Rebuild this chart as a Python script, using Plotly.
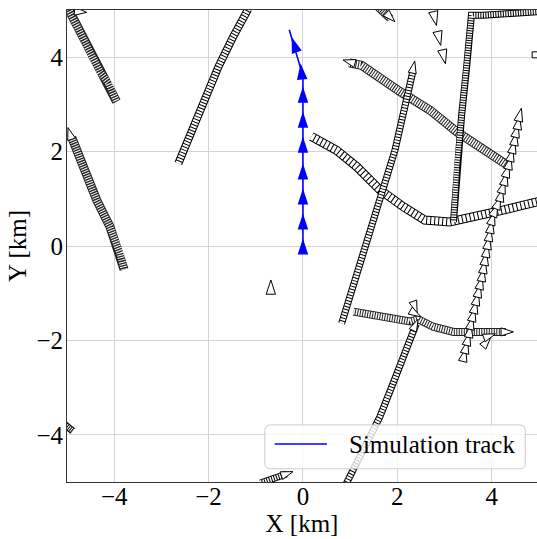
import numpy as np
import plotly.graph_objects as go

# ---------------- data (km) ----------------
# simulation track (blue)
sim_line_x = [0.0, 0.0, -0.29]
sim_line_y = [0.0, 3.6, 4.58]
sim_mark_x = [0.0, 0.0, 0.0, 0.0, 0.0, 0.0, 0.0, -0.05, -0.24]
sim_mark_y = [0.16, 0.69, 1.22, 1.75, 2.32, 2.85, 3.38, 3.87, 4.43]

# other ship tracks (dense history, drawn as ladders)
track_a_x = [-4.97, -4.58, -4.30, -4.12, -3.95]
track_a_y = [5.02, 4.29, 3.69, 3.45, 3.06]
track_b_x = [-4.90, -4.65, -4.37, -4.09, -3.88, -3.79]
track_b_y = [2.30, 1.68, 0.97, 0.41, -0.15, -0.50]
track_c_x = [-2.64, -2.18, -1.79, -1.48, -1.16]
track_c_y = [1.75, 2.88, 3.80, 4.43, 5.02]
track_d_x = [0.98, 1.24, 2.06, 2.69, 3.26, 3.82, 4.32]
track_d_y = [3.88, 3.83, 3.27, 2.88, 2.42, 2.03, 1.72]
track_e_x = [0.18, 0.71, 1.14, 1.63, 2.13, 2.58, 3.11, 3.68, 4.24, 5.10]
track_e_y = [2.32, 2.03, 1.68, 1.19, 0.83, 0.55, 0.51, 0.62, 0.76, 0.97]
track_f_x = [0.82, 1.95, 2.33]
track_f_y = [-1.64, 2.03, 3.70]
track_g_x = [3.19, 3.26, 3.36, 3.47, 3.57, 3.82, 4.39, 5.10]
track_g_y = [0.51, 1.68, 2.74, 3.80, 4.89, 4.89, 4.93, 4.97]
track_i_x = [1.07, 1.70, 2.27, 2.44, 2.76, 3.19, 3.61, 3.89, 4.30]
track_i_y = [-1.39, -1.50, -1.60, -1.55, -1.71, -1.82, -1.82, -1.80, -1.82]
track_j_x = [0.91, 1.21, 1.63, 1.91, 2.16, 2.34, 2.40]
track_j_y = [-5.05, -4.46, -3.62, -2.91, -2.27, -1.78, -1.65]
track_k_x = [-0.90, -0.35]
track_k_y = [-5.02, -4.83]
track_l_x = [1.55, 1.85]
track_l_y = [5.10, 4.82]
track_m_x = [-5.05, -4.88]
track_m_y = [-3.78, -3.92]

# ship with sparse, larger markers
track_h_x = [4.63, 4.59, 4.56, 4.52, 4.49, 4.45, 4.41, 4.37, 4.32, 4.28, 4.23,
             4.19, 4.13, 4.06, 4.01, 3.98, 3.95, 3.92, 3.89, 3.86, 3.83, 3.80,
             3.76, 3.72, 3.68, 3.64, 3.60, 3.56, 3.53, 3.49, 3.45]
track_h_y = [2.92, 2.75, 2.58, 2.41, 2.24, 2.07, 1.90, 1.73, 1.56, 1.39, 1.22,
             1.05, 0.89, 0.72, 0.55, 0.38, 0.21, 0.04, -0.13, -0.30, -0.47, -0.64,
             -0.81, -0.98, -1.15, -1.32, -1.49, -1.66, -1.83, -2.00, -2.17]

# current-position markers of other ships (tip position, heading in degrees)
head_x = [-4.98, 0.85, 2.37, 2.44, 4.46, -0.21, -4.58, 1.95, 3.98, 4.08, 2.42, 2.50]
head_y = [2.51, 3.94, 3.92, -1.55, -1.82, -4.78, 4.95, 4.75, -1.93, -1.86, -1.42, -1.50]
head_deg = [-17, -74, 12, 25, 90, 71, 95, 135, 40, 70, 160, 120]

lone_x = [2.83, 2.92, 3.02, -0.68]
lone_y = [4.67, 4.25, 3.86, -0.72]
lone_deg = [167, 167, 167, 0]

edge_x = [4.92]
edge_y = [4.05]

legend_label = "Simulation track"

# ---------------- figure ----------------
fig = go.Figure()

def ladder(x, y, width, dash, edge="black"):
    fig.add_trace(go.Scatter(x=x, y=y, mode="lines", showlegend=False, hoverinfo="skip",
                             line=dict(color=edge, width=width)))
    fig.add_trace(go.Scatter(x=x, y=y, mode="lines", showlegend=False, hoverinfo="skip",
                             line=dict(color="white", width=width - 2, dash=dash)))

ladder(track_a_x, track_a_y, 9, "1px,1.5px", "#222")
ladder(track_b_x, track_b_y, 9, "1px,1.4px", "#222")
ladder(track_c_x, track_c_y, 8, "2px,1px")
ladder(track_e_x, track_e_y, 9, "3px,1px")
ladder(track_d_x, track_d_y, 9, "1.5px,1px", "#222")
ladder(track_g_x, track_g_y, 7, "1.5px,1px")
ladder(track_f_x, track_f_y, 7, "2px,1px")
ladder(track_i_x, track_i_y, 8, "1.5px,1px", "#222")
ladder(track_j_x, track_j_y, 7, "2px,1px")
ladder(track_k_x, track_k_y, 7, "1.5px,1px")
ladder(track_l_x, track_l_y, 8, "1px,1px", "#222")
ladder(track_m_x, track_m_y, 7, "1px,1px")

def heading(x, y):
    x = np.asarray(x, float); y = np.asarray(y, float)
    dx = np.diff(x); dy = np.diff(y)
    a = np.degrees(np.arctan2(dx, dy))
    return np.concatenate([[a[0]], a]).tolist()

# sparse-marker ship (moving upward)
fig.add_trace(go.Scatter(x=track_h_x[::-1], y=track_h_y[::-1], mode="markers",
                         showlegend=False, hoverinfo="skip",
                         marker=dict(symbol="arrow", size=14, color="white",
                                     angle=heading(track_h_x[::-1], track_h_y[::-1]),
                                     line=dict(color="black", width=1))))

fig.add_trace(go.Scatter(x=head_x, y=head_y, mode="markers", showlegend=False, hoverinfo="skip",
                         marker=dict(symbol="arrow", size=13, color="white", angle=head_deg,
                                     line=dict(color="black", width=1))))
fig.add_trace(go.Scatter(x=lone_x, y=lone_y, mode="markers", showlegend=False, hoverinfo="skip",
                         marker=dict(symbol="arrow", size=15, color="white", angle=lone_deg,
                                     line=dict(color="black", width=1))))
fig.add_trace(go.Scatter(x=edge_x, y=edge_y, mode="markers", showlegend=False, hoverinfo="skip",
                         marker=dict(symbol="square", size=6, color="white",
                                     line=dict(color="black", width=1))))

# simulation track
fig.add_trace(go.Scatter(x=sim_line_x, y=sim_line_y, mode="lines", name=legend_label,
                         showlegend=False, line=dict(color="#0000ff", width=1.6)))
fig.add_trace(go.Scatter(x=sim_mark_x, y=sim_mark_y, mode="markers", showlegend=False,
                         marker=dict(symbol="arrow", size=17, color="#0000ff",
                                     angle=heading(sim_mark_x, sim_mark_y),
                                     line=dict(color="#0000ff", width=0))))

font = "Liberation Serif"
axis_common = dict(
    tickvals=[-4, -2, 0, 2, 4], showgrid=True, gridcolor="#d4d4d4", gridwidth=1,
    zeroline=False, showline=True, linecolor="#333333", linewidth=1, ticks="",
    tickfont=dict(family=font, size=25, color="black"), automargin=False,
)

# legend box (drawn in axes-fraction coordinates, like a matplotlib legend)
x0, x1, y0, y1, r = 0.421, 0.975, 0.028, 0.121, 0.012
legend_path = (f"M{x0+r},{y0} L{x1-r},{y0} Q{x1},{y0} {x1},{y0+r} L{x1},{y1-r} "
               f"Q{x1},{y1} {x1-r},{y1} L{x0+r},{y1} Q{x0},{y1} {x0},{y1-r} "
               f"L{x0},{y0+r} Q{x0},{y0} {x0+r},{y0} Z")

fig.update_layout(
    width=537, height=539,
    margin=dict(l=67, r=0, t=10, b=57),
    paper_bgcolor="white", plot_bgcolor="white",
    xaxis=dict(range=[-5, 4.96], mirror=True, ticklabelstandoff=-8,
               title=dict(text="X [km]", font=dict(family=font, size=25, color="black"), standoff=2),
               **axis_common),
    yaxis=dict(range=[-5, 5], mirror=False, ticklabelstandoff=-2,
               title=dict(text="Y [km]", font=dict(family=font, size=25, color="black"), standoff=2),
               **axis_common),
    showlegend=False,
    shapes=[
        dict(type="path", xref="paper", yref="paper", path=legend_path,
             fillcolor="rgba(255,255,255,0.8)", line=dict(color="#cccccc", width=1), layer="above"),
        dict(type="line", xref="paper", yref="paper", x0=0.442, x1=0.553, y0=0.0805, y1=0.0805,
             line=dict(color="#0000ff", width=1.6), layer="above"),
    ],
    annotations=[
        dict(text=legend_label, xref="paper", yref="paper", x=0.595, y=0.0805,
             xanchor="left", yanchor="middle", showarrow=False,
             font=dict(family=font, size=25, color="black")),
    ],
)

fig.write_html("out.html", config={"displayModeBar": False},
               post_script="document.body.style.margin='0';document.body.style.overflow='hidden';")
